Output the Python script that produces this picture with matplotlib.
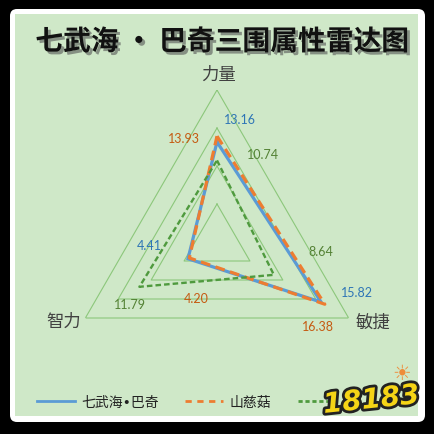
import numpy as np
import matplotlib
matplotlib.use("Agg")
import matplotlib.pyplot as plt
from matplotlib.patches import FancyBboxPatch, Rectangle
from matplotlib.lines import Line2D
import matplotlib.patheffects as pe

plt.rcParams['font.family'] = ['Noto Sans CJK SC', 'DejaVu Sans']
plt.rcParams['lines.scale_dashes'] = False

# ---- data ----
title = "七武海 · 巴奇三围属性雷达图"
categories = ["力量", "敏捷", "智力"]
series_names = ["七武海•巴奇", "山慈菇", ""]
s_buggy = [13.16, 15.82, 4.41]
s_shancigu = [13.93, 16.38, 4.20]
s_third = [10.74, 8.64, 11.79]
grid_levels = [5, 10, 15, 20]

W = H = 435
fig = plt.figure(figsize=(W / 100, H / 100), dpi=100, facecolor='black')

# ---- background frame ----
bg = fig.add_axes([0, 0, 1, 1])
bg.axis('off')
bg.add_patch(FancyBboxPatch((10, 10), 415, 413, boxstyle="round,pad=0,rounding_size=7",
                            fc='white', ec='none'))
bg.add_patch(Rectangle((15, 15), 403, 402, fc='#cfe8c8', ec='none'))
grad = np.zeros((10, 60, 4))
grad[..., :3] = 1.0
grad[..., 3] = np.linspace(0.75, 0.0, 60)[None, :] ** 1.5
bg.imshow(grad, extent=(15, 45, 417, 15), aspect='auto', interpolation='bilinear')
grad2 = np.zeros((40, 10, 4))
grad2[..., :3] = 1.0
grad2[..., 3] = np.linspace(0.5, 0.0, 40)[:, None] ** 1.5
bg.imshow(grad2, extent=(15, 418, 35, 15), aspect='auto', interpolation='bilinear')
bg.set_xlim(0, W)
bg.set_ylim(H, 0)

# title
fig.text(222 / W, 1 - 43 / H, title, ha='center', va='center', fontsize=20,
         fontweight='bold', color='#111111',
         path_effects=[pe.SimplePatchShadow(offset=(2, -2), shadow_rgbFace='#555555', alpha=0.6),
                       pe.Normal()])

# ---- radar ----
cx, cy, R = 217, 243, 152
ax = fig.add_axes([(cx - R) / W, 1 - (cy + R) / H, 2 * R / W, 2 * R / H], projection='polar')
ax.set_theta_offset(np.pi / 2)
ax.set_theta_direction(-1)
ax.set_ylim(0, 20)
ax.grid(False)
ax.set_xticks([])
ax.set_yticks([])
ax.spines['polar'].set_visible(False)
ax.patch.set_alpha(0)

theta = np.arange(len(categories)) * 2 * np.pi / len(categories)
theta_c = np.append(theta, theta[0])

for lv in grid_levels:
    ax.plot(theta_c, [lv] * len(theta_c), color='#8cc77b', lw=0.8, zorder=1)

def closed(v):
    return np.append(v, v[0])

ax.plot(theta_c, closed(s_buggy), color='#5b9bd5', lw=2.3, zorder=3,
        solid_joinstyle='miter')
ax.plot(theta_c, closed(s_shancigu), color='#ed7d31', lw=2.3, zorder=4,
        dashes=(7, 4), dash_capstyle='butt')
ax.plot(theta_c, closed(s_third), color='#4f9a3e', lw=1.7, zorder=5,
        dashes=(4, 2.2), dash_capstyle='butt')

# category labels
cat_offsets = [(1, 16), (24, -4), (-22, -3)]
for t, lab, off in zip(theta, categories, cat_offsets):
    ax.annotate(lab, xy=(t, grid_levels[-1]), xytext=off, textcoords='offset pixels',
                ha='center', va='center', fontsize=12.5, color='#404040',
                annotation_clip=False)

# data labels
label_font = dict(fontsize=9, family=['Lato', 'DejaVu Sans'], ha='center', va='center',
                  annotation_clip=False)
offs_buggy = [(23, 23), (36, 10), (-39, 14)]
offs_shan = [(-33, -2), (-7, -22), (7, -40)]
offs_third = [(46, 6), (47, 24), (-9, -17)]
for vals, offs, col in [(s_buggy, offs_buggy, '#2e75b6'),
                        (s_shancigu, offs_shan, '#c55a11'),
                        (s_third, offs_third, '#548235')]:
    for t, v, off in zip(theta, vals, offs):
        ax.annotate(f"{v:.2f}", xy=(t, v), xytext=off, textcoords='offset pixels',
                    color=col, **label_font)

# legend
handles = [Line2D([], [], color='#5b9bd5', lw=2),
           Line2D([], [], color='#ed7d31', lw=2, dashes=(4.5, 4)),
           Line2D([], [], color='#4f9a3e', lw=2, dashes=(3, 2))]
fig.legend(handles, series_names, loc='center left', bbox_to_anchor=(37 / W, 1 - 403 / H),
           ncol=3, frameon=False, handlelength=2.7, handletextpad=0.5,
           columnspacing=1.9, borderpad=0, borderaxespad=0, labelcolor='#222222',
           prop={'family': ['DejaVu Sans', 'Noto Sans CJK SC'], 'size': 10})

# watermark logo
fig.text(371 / W, 1 - 401 / H, "18183", ha='center', va='center', fontsize=20,
         fontweight='heavy', style='italic', color='#f5d416', rotation=6,
         family=['DejaVu Sans'],
         path_effects=[pe.withStroke(linewidth=4, foreground='#222222')], zorder=10)
fig.text(402 / W, 1 - 374 / H, "☀", ha='center', va='center', fontsize=15,
         color='#ee8c3a', family=['DejaVu Sans'], zorder=9)

fig.savefig("out.png", dpi=100, facecolor='black')
